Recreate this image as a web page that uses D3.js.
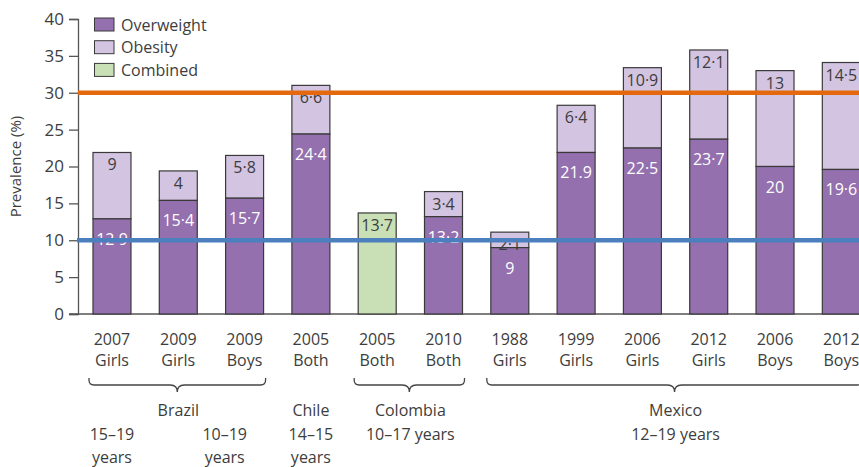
<!DOCTYPE html>
<html><head><meta charset="utf-8">
<script src="https://cdn.jsdelivr.net/npm/d3@7"></script>
<style>
html,body{margin:0;padding:0;background:#fff;}
svg{display:block;font-family:"Open Sans",sans-serif;}
</style></head><body>
<svg id="c" width="859" height="467"></svg>
<script>
const ids = ["b1","b2","b3","c1","co1","co2","m1","m2","m3","m4","m5","m6"];
const years = ["2007","2009","2009","2005","2005","2010","1988","1999","2006","2012","2006","2012"];
const subgroups = ["Girls","Girls","Boys","Both","Both","Both","Girls","Girls","Girls","Girls","Boys","Boys"];
const overweight = [12.9,15.4,15.7,24.4,0,13.2,9,21.9,22.5,23.7,20,19.6];
const obesity = [9,4,5.8,6.6,0,3.4,2.1,6.4,10.9,12.1,13,14.5];
const combined = [0,0,0,0,13.7,0,0,0,0,0,0,0];
const overweightLabels = ["12·9","15·4","15·7","24·4","","13·2","9","21.9","22·5","23·7","20","19·6"];
const obesityLabels = ["9","4","5·8","6·6","","3·4","2·1","6·4","10·9","12·1","13","14·5"];
const combinedLabels = ["","","","","13·7","","","","","","",""];
const yTicks = [0,5,10,15,20,25,30,35,40];
const legendItems = ["Overweight","Obesity","Combined"];
const refLines = [30,10];
const countryGroups = [
  {from:0,to:2,name:"Brazil",brace:true},
  {from:3,to:3,name:"Chile",brace:false},
  {from:4,to:5,name:"Colombia",brace:true},
  {from:6,to:11,name:"Mexico",brace:true}
];
const ageLabels = [
  {at:0,lines:["15–19","years"]},
  {at:1.7,lines:["10–19","years"]},
  {at:3,lines:["14–15","years"]},
  {at:4.5,lines:["10–17 years"]},
  {at:8.5,lines:["12–19 years"]}
];

const colors = {ow:"#9470ae", ob:"#d3c4e1", co:"#c9dfb5", stroke:"#3a3a3a", text:"#3d3d3d", orange:"#e4690e", blue:"#4b7fbd"};

const svg = d3.select("#c");
const y = d3.scaleLinear().domain([0,40]).range([314,19]);
const x = d3.scaleBand().domain(ids).range([78,875.3]).paddingInner(0.427).paddingOuter(0.226);
const bw = x.bandwidth();
const cx = i => x(ids[i]) + bw/2;
const fx = v => { const i = Math.floor(v), f = v - i; return i+1 < ids.length ? cx(i) + f*(cx(i+1)-cx(i)) : cx(i); };

const yAxis = d3.axisLeft(y).tickValues(yTicks).tickSize(9).tickPadding(5);
const ga = svg.append("g").attr("transform","translate(78,0)").call(yAxis);
ga.select(".domain").attr("stroke","#555").attr("stroke-width",1.3);
ga.selectAll(".tick line").attr("stroke","#555").attr("stroke-width",1.3);
ga.selectAll(".tick text").attr("fill",colors.text).style("font-size","17px").style("font-family","Open Sans");
svg.append("line").attr("x1",69).attr("x2",859).attr("y1",y(0)).attr("y2",y(0)).attr("stroke","#555").attr("stroke-width",1.3);

svg.append("text").attr("transform",`translate(21,${y(20)}) rotate(-90)`).attr("text-anchor","middle")
  .attr("fill",colors.text).style("font-size","15px").text("Prevalence (%)");

const g = svg.append("g");
ids.forEach((id,i)=>{
  if (combined[i] > 0) {
    g.append("rect").attr("x",x(id)).attr("width",bw).attr("y",y(combined[i])).attr("height",y(0)-y(combined[i]))
      .attr("fill",colors.co).attr("stroke",colors.stroke).attr("stroke-width",1.2);
    g.append("text").attr("x",cx(i)).attr("y",y(combined[i])+12).attr("dominant-baseline","central").attr("text-anchor","middle")
      .attr("fill",colors.text).style("font-size","16px").text(combinedLabels[i]);
  } else {
    const tot = overweight[i] + obesity[i];
    g.append("rect").attr("x",x(id)).attr("width",bw).attr("y",y(tot)).attr("height",y(overweight[i])-y(tot))
      .attr("fill",colors.ob).attr("stroke",colors.stroke).attr("stroke-width",1.2);
    g.append("rect").attr("x",x(id)).attr("width",bw).attr("y",y(overweight[i])).attr("height",y(0)-y(overweight[i]))
      .attr("fill",colors.ow).attr("stroke",colors.stroke).attr("stroke-width",1.2);
    g.append("text").attr("x",cx(i)).attr("y",y(tot)+12).attr("dominant-baseline","central").attr("text-anchor","middle")
      .attr("fill",colors.text).style("font-size","16px").text(obesityLabels[i]);
    g.append("text").attr("x",cx(i)).attr("y",y(overweight[i])+20).attr("dominant-baseline","central").attr("text-anchor","middle")
      .attr("fill","#fff").style("font-size","16px").text(overweightLabels[i]);
  }
});

svg.append("line").attr("x1",78).attr("x2",859).attr("y1",y(refLines[0])).attr("y2",y(refLines[0])).attr("stroke",colors.orange).attr("stroke-width",4.5);
svg.append("line").attr("x1",77).attr("x2",859).attr("y1",y(refLines[1])).attr("y2",y(refLines[1])).attr("stroke",colors.blue).attr("stroke-width",4.5);

const legFill = [colors.ow, colors.ob, colors.co];
legendItems.forEach((t,k)=>{
  const ly = 18 + k*22.7;
  svg.append("rect").attr("x",94.5).attr("y",ly).attr("width",19.5).attr("height",13).attr("fill",legFill[k]).attr("stroke",colors.stroke).attr("stroke-width",1);
  svg.append("text").attr("x",121).attr("y",ly+6.5).attr("dominant-baseline","central").attr("fill",colors.text).style("font-size","16px").text(t);
});

ids.forEach((id,i)=>{
  svg.append("text").attr("x",cx(i)).attr("y",345).attr("text-anchor","middle").attr("fill",colors.text).style("font-size","16px").text(years[i]);
  svg.append("text").attr("x",cx(i)).attr("y",366).attr("text-anchor","middle").attr("fill",colors.text).style("font-size","16px").text(subgroups[i]);
});

function bracePath(x1,x2,top,mid,tip){
  const m=(x1+x2)/2, r=5;
  return `M${x1},${top} L${x1},${mid-r} Q${x1},${mid} ${x1+r},${mid} L${m-7},${mid} Q${m},${mid} ${m},${tip} Q${m},${mid} ${m+7},${mid} L${x2-r},${mid} Q${x2},${mid} ${x2},${mid-r} L${x2},${top}`;
}
countryGroups.forEach(gr=>{
  const x1 = x(ids[gr.from]) - 4, x2 = x(ids[gr.to]) + bw + 2;
  if (gr.brace) svg.append("path").attr("d",bracePath(x1,x2,378,385,392)).attr("fill","none").attr("stroke","#444").attr("stroke-width",1.3);
  svg.append("text").attr("x",(fx(gr.from)+fx(gr.to))/2).attr("y",416).attr("text-anchor","middle").attr("fill",colors.text).style("font-size","16px").text(gr.name);
});
ageLabels.forEach(a=>{
  a.lines.forEach((ln,k)=>{
    svg.append("text").attr("x",fx(a.at)).attr("y",440+k*23).attr("text-anchor","middle").attr("fill",colors.text).style("font-size","16px").text(ln);
  });
});
</script></body></html>
